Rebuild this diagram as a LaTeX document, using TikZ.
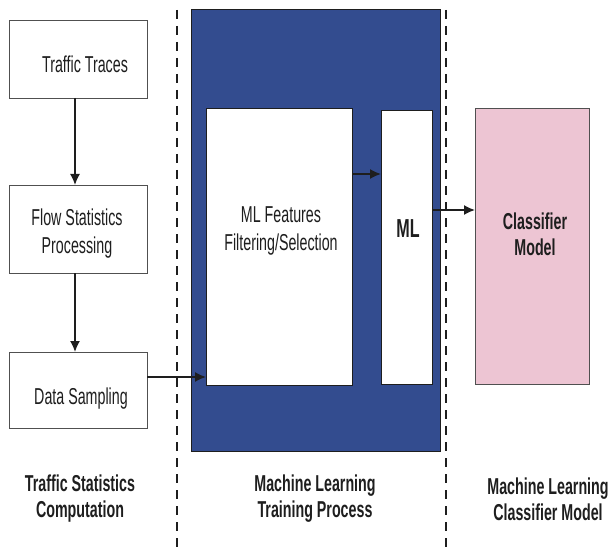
\documentclass[tikz,border=0pt]{standalone}
\usepackage{fontspec}
\setmainfont[FakeStretch=0.62]{Liberation Sans}
\usetikzlibrary{arrows.meta}

\definecolor{panelblue}{RGB}{51,76,143}
\definecolor{modelpink}{RGB}{237,197,211}
\definecolor{edgegray}{RGB}{80,80,80}
\definecolor{inkdark}{RGB}{30,30,30}

\tikzset{
  stagebox/.style={draw=edgegray, line width=0.8pt, fill=white,
    inner sep=0pt, outer sep=0pt},
  txt/.style={inner sep=0pt, align=center, text=inkdark,
    font=\fontsize{23}{28}\selectfont},
  boldtxt/.style={txt, font=\fontsize{23}{26}\selectfont\bfseries},
  flow/.style={draw=inkdark, line width=1.6pt,
    -{Latex[length=11pt,width=10pt]}},
  divider/.style={draw=inkdark, line width=2.6pt, dash pattern=on 9pt off 7pt}
}

\begin{document}
\begin{tikzpicture}[x=1pt,y=-1pt]
\useasboundingbox (0,0) rectangle (609,553);

% training panel background
\node[draw=inkdark, line width=0.6pt, fill=panelblue, inner sep=0pt,
  minimum width=249pt, minimum height=442pt] (panel) at (315.5,230) {};

% stage dividers
\coordinate (d1t) at (177,10);
\coordinate (d1b) at (177,553);
\coordinate (d2t) at (446,10);
\coordinate (d2b) at (446,553);
\draw[divider] (d1t) -- (d1b);
\draw[divider] (d2t) -- (d2b);

% left column: statistics computation
\node[stagebox, minimum width=138pt, minimum height=78pt] (tt) at (78,59) {};
\node[txt] (ttl) at (85,64.5) {Traffic Traces};

\node[stagebox, minimum width=138pt, minimum height=88pt] (fs) at (78,229) {};
\node[txt] (fsl) at (77,234) {Flow Statistics\\Processing};

\node[stagebox, minimum width=138pt, minimum height=76pt] (ds) at (78,390) {};
\node[txt] (dsl) at (81,399) {Data Sampling};

% training process
\node[stagebox, draw=inkdark, minimum width=146pt, minimum height=277pt] (mlf) at (279,247) {};
\node[txt] (mlfl) at (281,231) {ML Features\\Filtering/Selection};

\node[stagebox, draw=inkdark, minimum width=51pt, minimum height=274pt] (ml) at (406.5,247) {};
\node[boldtxt, font=\fontsize{26}{30}\selectfont\bfseries] (mll) at (408,228.5) {ML};

% classifier model
\node[stagebox, fill=modelpink, minimum width=114pt, minimum height=276pt] (cm) at (532,246) {};
\node[boldtxt] (cml) at (535,234) {Classifier\\Model};

% stage captions
\node[boldtxt] (cap1) at (80,499) {Traffic Statistics\\Computation};
\node[boldtxt] (cap2) at (315,499) {Machine Learning\\Training Process};
\node[boldtxt] (cap3) at (548,499) {Machine Learning\\Classifier Model};

% connectors
\coordinate (r1) at (0,174);
\coordinate (r2) at (0,210);
\draw[flow] ([xshift=-3pt]tt.south) -- ([xshift=-3pt]fs.north);
\draw[flow] ([xshift=-3pt]fs.south) -- ([xshift=-3pt]ds.north);
\draw[flow] ([yshift=13pt]ds.east) -- ([yshift=13pt]ds.east -| mlf.west);
\draw[flow] (mlf.east |- r1) -- (ml.west |- r1);
\draw[flow] (ml.east |- r2) -- (cm.west |- r2);
\end{tikzpicture}
\end{document}
